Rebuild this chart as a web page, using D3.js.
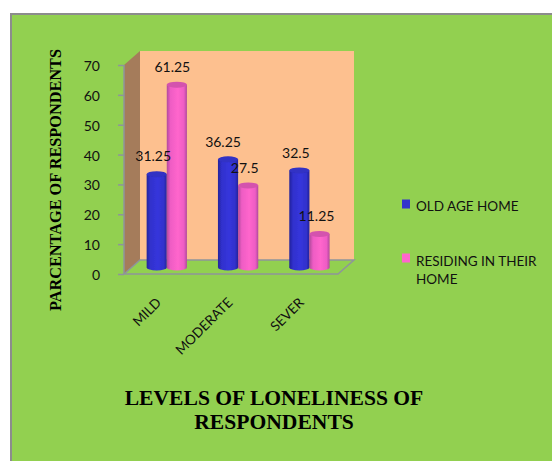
<!DOCTYPE html>
<html>
<head>
<meta charset="utf-8">
<script src="https://cdn.jsdelivr.net/npm/d3@7"></script>
<style>
html,body{margin:0;padding:0;background:#fff}
svg{display:block}
text{fill:#111}
text.title{fill:#000}
</style>
</head>
<body>
<svg id="chart" width="552" height="461"></svg>
<script>
const categories = ["MILD", "MODERATE", "SEVER"];
const seriesNames = ["OLD AGE HOME", "RESIDING IN THEIR HOME"];
const oldAgeHome = [31.25, 36.25, 32.5];
const residingHome = [61.25, 27.5, 11.25];
const valueTicks = [0, 10, 20, 30, 40, 50, 60, 70];
const seriesValues = [oldAgeHome, residingHome];
const yTitle = "PARCENTAGE OF RESPONDENTS";
const xTitleLines = ["LEVELS OF LONELINESS OF", "RESPONDENTS"];

const svg = d3.select("#chart");
const sans = "Lato,'Open Sans',sans-serif";
const serif = "'Liberation Serif',serif";

// 3D box: the front plane is offset from the back wall by depth
const depthX = 16, depthY = 14;
const x0 = d3.scaleBand().domain(categories).range([124, 338]);
const x1 = d3.scaleBand().domain([0, 1]).range([x0.bandwidth() * 0.205, x0.bandwidth() * 0.77]);
const y = d3.scaleLinear().domain([0, 70]).range([274, 65]);
const barShift = { x: 8, y: -6.5 };

// page panel
svg.append("rect").attr("x", 11).attr("y", 14).attr("width", 560).attr("height", 470)
  .attr("fill", "#92d050").attr("stroke", "#8c8c8c").attr("stroke-width", 2);

const defs = svg.append("defs");
const cyl = (id, edge, mid, centre) => {
  const g = defs.append("linearGradient").attr("id", id);
  [[0, edge], [0.18, mid], [0.55, centre], [0.85, mid], [1, edge]].forEach(([o, c]) =>
    g.append("stop").attr("offset", o).attr("stop-color", c));
};
cyl("cylBlue", "#24249a", "#3030cc", "#3636dc");
cyl("cylPink", "#b04a9c", "#ee5cc4", "#ff66cc");
defs.append("filter").attr("id", "soft").append("feGaussianBlur").attr("stdDeviation", 0.6);

const [xL, xR] = x0.range();
const yB = y(0), yT = y(70);

// walls and floor
const poly = pts => pts.map(p => p.join(",")).join(" ");
svg.append("polygon").attr("points", poly([[xL + depthX, yT - depthY], [xR + depthX, yT - depthY], [xR + depthX, yB - depthY], [xL + depthX, yB - depthY]]))
  .attr("fill", "#fdc08f");
svg.append("polygon").attr("points", poly([[xL, yT], [xL + depthX, yT - depthY], [xL + depthX, yB - depthY], [xL, yB]]))
  .attr("fill", "#a57c5b");
svg.append("polygon").attr("points", poly([[xL, yB], [xL + depthX, yB - depthY], [xR + depthX, yB - depthY], [xR, yB]]))
  .attr("fill", "#92d050").attr("stroke", "#8f949b").attr("stroke-width", 1.5);
svg.append("line").attr("x1", xL).attr("x2", xL).attr("y1", yT).attr("y2", yB)
  .attr("stroke", "#8f949b").attr("stroke-width", 1.5);

// value axis
const yAxis = d3.axisLeft(y).tickValues(valueTicks).tickSize(6).tickPadding(18).tickFormat(d3.format("d"));
const yG = svg.append("g").attr("transform", `translate(${xL},0)`).call(yAxis);
yG.select(".domain").remove();
yG.selectAll(".tick line").attr("stroke", "#8f949b").attr("stroke-width", 1.5);
yG.selectAll(".tick text").attr("font-family", sans).attr("font-size", 14).attr("fill", "#111").attr("y", 1);

// cylinders
const ellipseRy = 3;
const groups = svg.append("g").attr("filter", "url(#soft)").selectAll("g").data(categories).join("g")
  .attr("transform", d => `translate(${x0(d) + barShift.x},${barShift.y})`);
const fills = ["cylBlue", "cylPink"];
const caps = ["#3030c4", "#d452ae"];
seriesValues.forEach((vals, s) => {
  const g = groups.append("g");
  g.append("rect")
    .attr("x", x1(s)).attr("width", x1.bandwidth())
    .attr("y", (d, i) => y(vals[i]))
    .attr("height", (d, i) => y(0) - y(vals[i]))
    .attr("fill", `url(#${fills[s]})`);
  g.append("ellipse")
    .attr("cx", x1(s) + x1.bandwidth() / 2).attr("cy", y(0))
    .attr("rx", x1.bandwidth() / 2).attr("ry", ellipseRy)
    .attr("fill", `url(#${fills[s]})`);
  g.append("ellipse")
    .attr("cx", x1(s) + x1.bandwidth() / 2)
    .attr("cy", (d, i) => y(vals[i]))
    .attr("rx", x1.bandwidth() / 2).attr("ry", ellipseRy)
    .attr("fill", caps[s]);
});

// data labels, nudged by hand where neighbouring bars would collide
const labelNudge = [[[-3.5, -13], [-5, -12], [-3.5, -12.5]], [[-4.5, -12.5], [-3.5, -12], [-3, -13]]];
seriesValues.forEach((vals, s) => {
  categories.forEach((c, i) => {
    svg.append("text")
      .attr("x", x0(c) + barShift.x + x1(s) + x1.bandwidth() / 2 + labelNudge[s][i][0])
      .attr("y", y(vals[i]) + barShift.y + labelNudge[s][i][1])
      .attr("text-anchor", "middle")
      .attr("font-family", sans).attr("font-size", 14)
      .text(vals[i]);
  });
});

// category labels
categories.forEach(c => {
  svg.append("text")
    .attr("transform", `translate(${x0(c) + x0.bandwidth() / 2},${yB + 27}) rotate(-45)`)
    .attr("text-anchor", "end").attr("dominant-baseline", "middle")
    .attr("font-family", sans).attr("font-size", 13.5)
    .text(c);
});

// axis titles
svg.append("text").attr("class", "title")
  .attr("transform", "translate(61,180) rotate(-90)")
  .attr("text-anchor", "middle")
  .attr("font-family", serif).attr("font-weight", "bold").attr("font-size", 16.3)
  .text(yTitle);
xTitleLines.forEach((line, i) => {
  svg.append("text").attr("class", "title")
    .attr("x", 274).attr("y", 405 + i * 24)
    .attr("text-anchor", "middle")
    .attr("font-family", serif).attr("font-weight", "bold").attr("font-size", 21.6)
    .text(line);
});

// legend
const legendColors = ["#3333cc", "#ff66cc"];
const legendY = [204, 258];
seriesNames.forEach((name, i) => {
  svg.append("rect").attr("x", 402).attr("y", legendY[i] - 4.5).attr("width", 8).attr("height", 9)
    .attr("fill", legendColors[i]);
});
svg.append("text").attr("x", 416).attr("y", 211).attr("font-family", sans).attr("font-size", 13.5).text(seriesNames[0]);
svg.append("text").attr("x", 416).attr("y", 266).attr("font-family", sans).attr("font-size", 13.5).text("RESIDING IN THEIR");
svg.append("text").attr("x", 416).attr("y", 284).attr("font-family", sans).attr("font-size", 13.5).text("HOME");
</script>
</body>
</html>
